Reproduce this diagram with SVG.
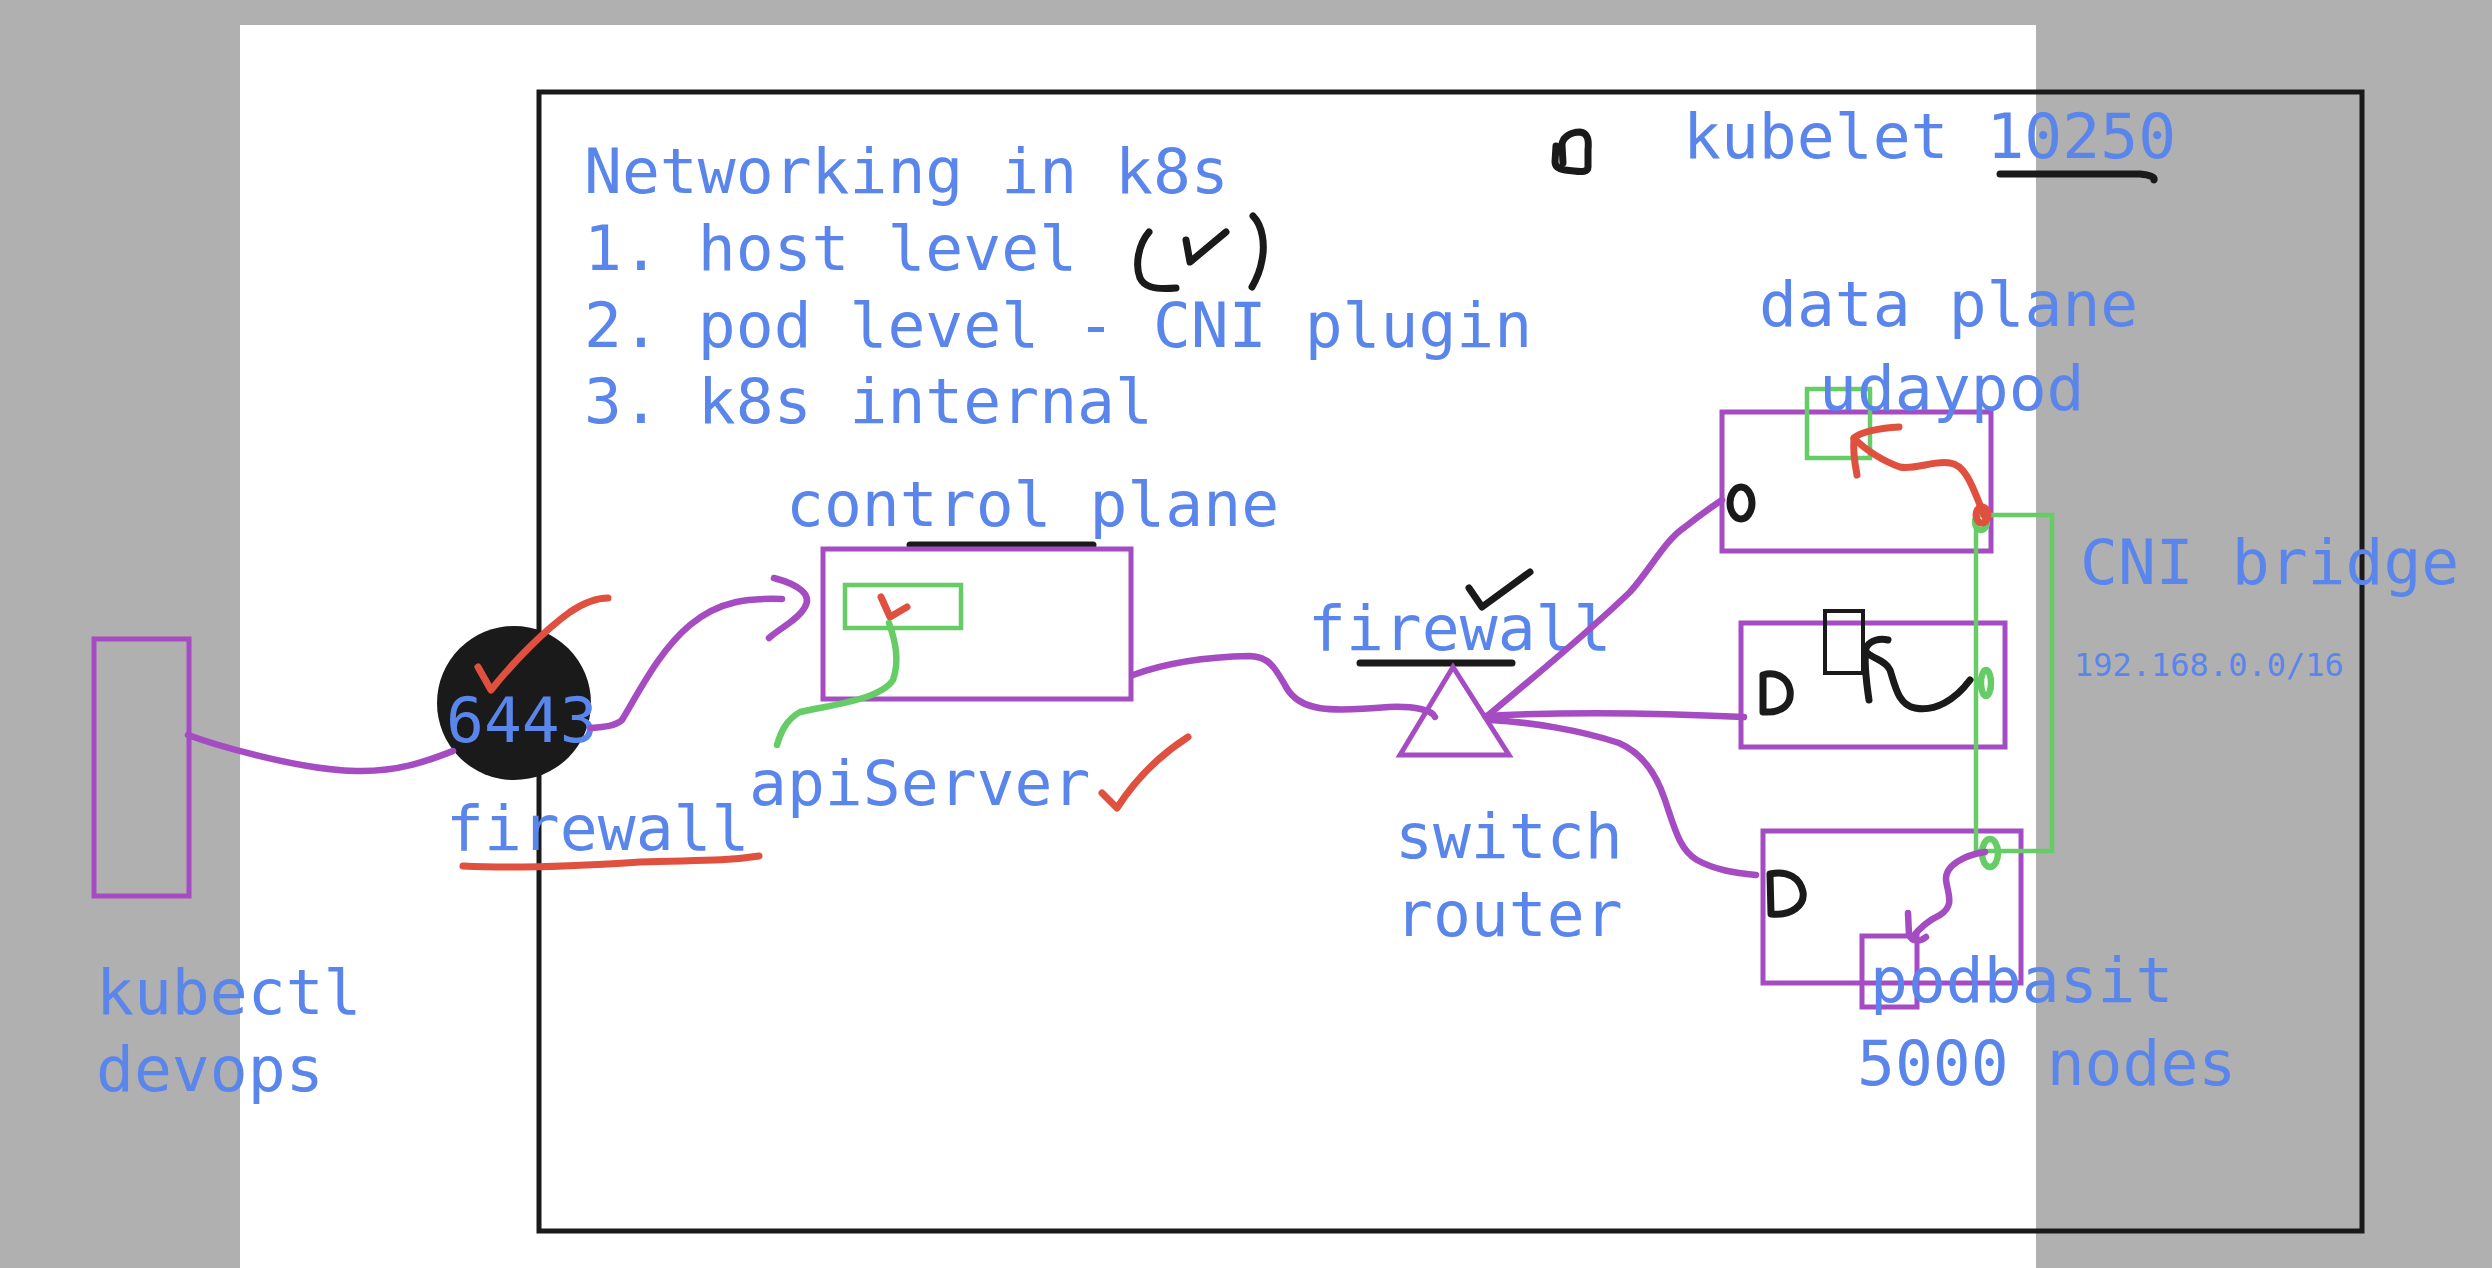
<svg xmlns="http://www.w3.org/2000/svg" width="2492" height="1268" viewBox="0 0 2492 1268">
<style>
.t{font-family:"DejaVu Sans Mono","Liberation Mono",monospace;font-size:63px;fill:#5a86ec}
.s{font-size:32px}
.pu{fill:none;stroke:#a54cc3;stroke-width:6.5;stroke-linecap:round;stroke-linejoin:round}
.pr{fill:none;stroke:#a54cc3;stroke-width:5}
.gr{fill:none;stroke:#66cc66;stroke-width:4.5}
.gl{fill:none;stroke:#66cc66;stroke-width:6.5;stroke-linecap:round;stroke-linejoin:round}
.rd{fill:none;stroke:#e0503f;stroke-width:7;stroke-linecap:round;stroke-linejoin:round}
.bk{fill:none;stroke:#1a1a1a;stroke-width:7;stroke-linecap:round;stroke-linejoin:round}
</style>
<rect x="0" y="0" width="2492" height="1268" fill="#b0b0b0"/>
<rect x="240" y="25" width="1796" height="1243" fill="#ffffff"/>
<rect id="frame" x="539" y="92" width="1823" height="1139" fill="none" stroke="#1a1a1a" stroke-width="5"/>

<g id="title">
<text class="t" x="584" y="193">Networking in k8s</text>
<text class="t" x="584" y="270">1. host level</text>
<text class="t" x="584" y="347">2. pod level - CNI plugin</text>
<text class="t" x="584" y="423">3. k8s internal</text>
<path class="bk" d="M1149,232 C1138,245 1135,265 1140,278 C1144,286 1152,290 1176,288"/>
<path class="bk" d="M1253,216 C1263,226 1265,245 1262,260 C1260,272 1256,280 1252,287"/>
<path class="bk" d="M1186,240 L1190,262 L1226,232"/>
<path class="bk" d="M1563,163 L1562,145 C1562,138 1570,132 1580,132 C1588,133 1589,140 1588,150 L1588,167 C1588,172 1582,172 1574,171 C1562,170 1555,169 1555,162 L1556,146" stroke-width="6"/>
</g>

<g id="kubelet">
<text class="t" x="1683" y="158">kubelet 10250</text>
<path class="bk" d="M2000,174 L2140,174 C2150,175 2155,177 2154,180"/>
</g>

<g id="kubectl">
<rect class="pr" x="94" y="639" width="95" height="257"/>
<text class="t" x="96" y="1014">kubectl</text>
<text class="t" x="96" y="1091">devops</text>
</g>

<g id="firewall-6443">
<circle cx="514" cy="703" r="77" fill="#1a1a1a"/>
<text class="t" x="446" y="742">6443</text>
<path class="rd" d="M478,667 L491,690 C515,660 545,630 570,612 C585,602 598,598 608,598"/>
<text class="t" x="446" y="850">firewall</text>
<path class="rd" d="M463,866 C520,869 580,866 640,862 C690,860 720,862 759,856"/>
</g>

<g id="control-plane">
<text class="t" x="786" y="526">control plane</text>
<path class="bk" d="M910,545 L1093,545" stroke-width="8"/>
<rect class="pr" x="823" y="549" width="308" height="150"/>
</g>

<g id="apiServer">
<rect class="gr" x="845" y="585" width="116" height="43"/>
<path class="rd" d="M881,597 L890,617 L907,607" stroke-width="5"/>
<text class="t" x="749" y="805">apiServer</text>
<path class="rd" d="M1102,793 L1117,808 C1135,780 1160,755 1188,737"/>
</g>

<g id="switch-router">
<text class="t" x="1308" y="650">firewall</text>
<path class="bk" d="M1360,663 L1512,663" stroke-width="8"/>
<path class="bk" d="M1469,588 L1482,607 L1530,572"/>
<path class="pr" d="M1453,667 L1400,755 L1509,755 Z"/>
<text class="t" x="1395" y="858">switch</text>
<text class="t" x="1395" y="936">router</text>
</g>

<g id="data-plane">
<text class="t" x="1759" y="326">data plane</text>
</g>

<g id="node-udaypod">
<rect class="pr" x="1722" y="412" width="269" height="139"/>
<rect class="gr" x="1807" y="389" width="63" height="69"/>
<text class="t" x="1819" y="410">udaypod</text>
<ellipse cx="1741" cy="503" rx="11" ry="16" fill="none" stroke="#1a1a1a" stroke-width="7"/>
</g>

<g id="node-2">
<rect class="pr" x="1741" y="623" width="264" height="124"/>
<rect x="1825" y="611" width="38" height="62" fill="none" stroke="#1a1a1a" stroke-width="4"/>
<path class="bk" d="M1763,675 L1763,712 C1782,713 1792,705 1790,690 C1788,678 1776,671 1763,675"/>
</g>

<g id="node-podbasit">
<rect class="pr" x="1763" y="831" width="258" height="152"/>
<rect class="pr" x="1862" y="936" width="55" height="71"/>
<path class="bk" d="M1770,874 L1771,914 C1792,916 1805,905 1803,892 C1800,878 1788,870 1770,874"/>
<text class="t" x="1870" y="1002">podbasit</text>
<text class="t" x="1857" y="1085">5000 nodes</text>
</g>

<g id="cni-bridge">
<rect class="gr" x="1976" y="515" width="76" height="336"/>
<ellipse cx="1981" cy="522" rx="6" ry="8" class="gl"/>
<ellipse cx="1986" cy="683" rx="5" ry="13" class="gl"/>
<ellipse cx="1990" cy="853" rx="8" ry="14" class="gl"/>
<text class="t" x="2080" y="584">CNI bridge</text>
<text class="t s" x="2074" y="676">192.168.0.0/16</text>
</g>

<g id="connectors">
<path class="pu" d="M188,735 C215,745 300,770 356,771 C400,772 430,760 453,751"/>
<path class="pu" d="M591,728 C605,727 615,726 622,720 C640,690 660,650 690,625 C720,600 750,598 782,599"/>
<path class="pu" d="M774,578 C800,585 812,595 805,607 C798,620 780,628 769,638"/>
<path class="gl" d="M889,623 C895,640 900,660 893,680 C880,700 830,705 800,712 C785,720 780,735 777,745"/>
<path class="pu" d="M1133,675 C1160,665 1200,657 1250,656 C1270,657 1275,668 1286,687 C1300,712 1330,712 1389,707 C1415,706 1432,710 1435,717"/>
<path class="pu" d="M1486,717 C1530,680 1580,640 1630,592 C1650,570 1665,540 1685,527 C1700,515 1710,508 1722,500"/>
<path class="pu" d="M1486,716 C1560,712 1640,712 1744,717"/>
<path class="pu" d="M1490,720 C1530,722 1580,730 1619,743 C1640,752 1655,770 1665,800 C1675,830 1680,850 1697,860 C1715,870 1735,873 1756,875"/>
<path class="rd" d="M1985,517 C1975,495 1968,465 1950,463 C1935,460 1915,470 1900,467 C1885,462 1865,450 1854,438"/>
<path class="rd" d="M1899,427 C1880,428 1860,432 1854,438 C1853,450 1855,465 1857,475"/>
<ellipse cx="1982" cy="515" rx="6" ry="8" class="rd"/>
<path class="pu" d="M1985,852 C1965,855 1945,865 1946,880 C1948,895 1955,905 1940,915 C1925,922 1918,930 1912,938"/>
<path class="pu" d="M1908,913 L1909,935 C1912,942 1920,942 1926,937"/>
<path class="bk" d="M1869,700 C1866,680 1864,660 1866,648 C1870,640 1880,638 1888,640"/>
<path class="bk" d="M1866,652 C1875,660 1885,660 1890,670 C1895,685 1898,705 1915,708 C1935,712 1955,700 1970,680"/>
</g>
</svg>
